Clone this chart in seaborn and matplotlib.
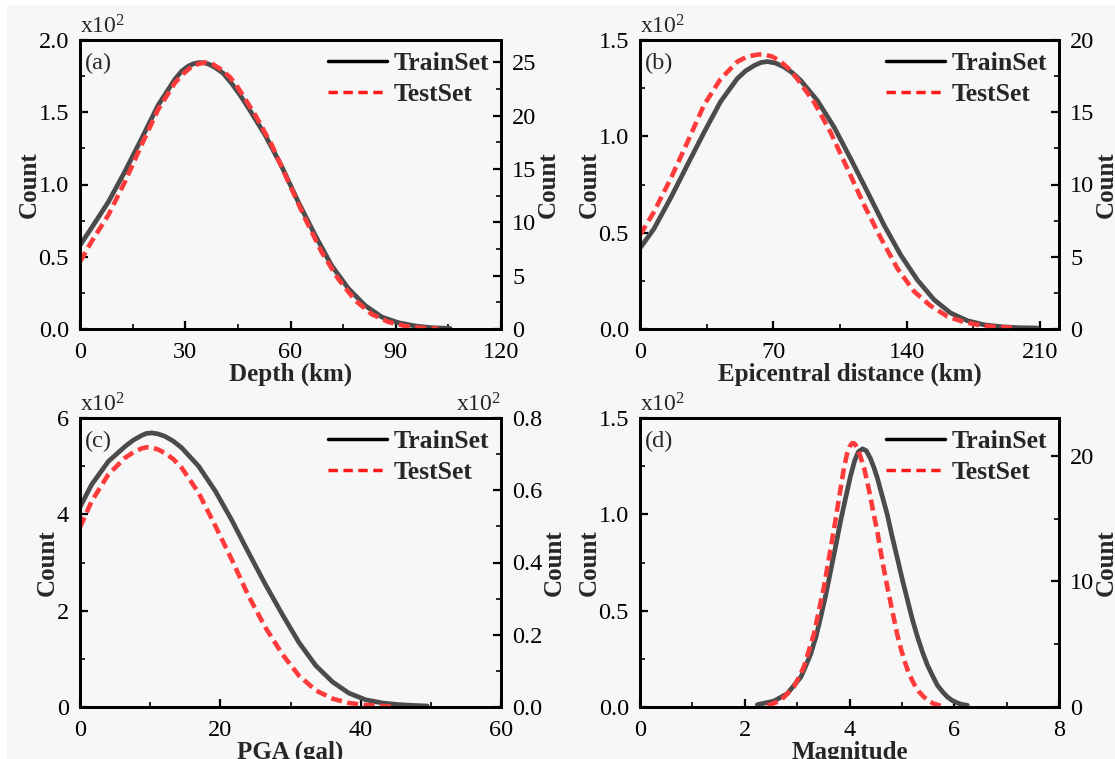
import matplotlib
matplotlib.use("Agg")
import matplotlib.pyplot as plt
from matplotlib.lines import Line2D
from matplotlib.patches import Rectangle
from matplotlib.ticker import MultipleLocator, FormatStrFormatter
import pandas as pd
import seaborn as sns

# ---- data: smoothed count distributions (left axis in units of 10^2) ----
depth_train_x = [0, 3.3, 8.1, 12.8, 17.6, 22.3, 27.1, 29.0, 30.9, 32.3, 33.7, 35.0, 36.5, 38.5, 40.8,
                 43.2, 45.6, 48.0, 52.7, 57.5, 62.2, 67.0, 71.7, 76.5, 81.2, 86.0, 90.7, 95.5, 100.2, 105.5]
depth_train_y = [0.58, 0.70, 0.88, 1.09, 1.32, 1.55, 1.73, 1.785, 1.82, 1.835, 1.843, 1.843, 1.835, 1.81, 1.77,
                 1.70, 1.62, 1.53, 1.345, 1.125, 0.88, 0.65, 0.44, 0.28, 0.164, 0.083, 0.044, 0.021, 0.009, 0.004]
depth_test_x = [0, 3.3, 8.1, 12.8, 17.6, 22.3, 27.1, 29.5, 31.8, 33.7, 35.6, 38.0, 40.4, 42.8, 45.1,
                49.9, 54.6, 59.4, 64.1, 68.9, 73.6, 78.4, 83.1, 87.9, 92.6, 97.4, 102.1]
depth_test_y = [6.3, 8.2, 10.7, 13.8, 17.3, 20.6, 23.1, 23.95, 24.6, 24.85, 25.0, 24.8, 24.3, 23.6, 22.6,
                20.1, 17.3, 13.8, 10.4, 7.2, 4.7, 2.7, 1.4, 0.66, 0.28, 0.1, 0.03]

epi_train_x = [0, 7.3, 16.1, 24.8, 33.6, 42.3, 51.1, 55.5, 59.9, 63.4, 66.9, 71.2, 75.6, 80.0, 84.4,
               93.1, 101.9, 110.6, 119.4, 128.1, 136.9, 145.6, 154.4, 163.1, 171.9, 180.6, 189.4,
               198.1, 208.6]
epi_train_y = [0.419, 0.52, 0.68, 0.85, 1.02, 1.18, 1.30, 1.34, 1.367, 1.383, 1.388, 1.38, 1.36, 1.33, 1.29,
               1.186, 1.048, 0.884, 0.712, 0.54, 0.384, 0.255, 0.152, 0.083, 0.043, 0.022, 0.012,
               0.007, 0.005]
epi_test_x = [0, 7.3, 16.1, 24.8, 33.6, 42.3, 51.1, 55.5, 59.9, 62.5, 65.1, 69.5, 73.9, 78.2, 82.6,
              91.4, 100.1, 108.9, 117.6, 126.4, 135.1, 143.9, 152.6, 161.4, 170.1, 178.9, 187.6, 198]
epi_test_y = [6.5, 8.1, 10.4, 12.9, 15.5, 17.3, 18.5, 18.8, 18.95, 19.0, 19.0, 18.85, 18.5, 18.0, 17.3,
              15.7, 13.6, 11.1, 8.6, 6.3, 4.2, 2.6, 1.6, 0.87, 0.48, 0.25, 0.14, 0.07]

pga_train_x = [0, 1.67, 4.05, 6.43, 7.6, 8.81, 9.5, 10.24, 11.1, 12.1, 13.3, 14.5, 16.9, 19.3, 21.7,
               24.0, 26.4, 28.8, 31.2, 33.6, 36.0, 38.3, 40.7, 43.1, 45.5, 47.9, 49.5]
pga_train_y = [4.15, 4.62, 5.10, 5.41, 5.54, 5.64, 5.68, 5.69, 5.67, 5.62, 5.52, 5.38, 5.00, 4.48, 3.86,
               3.21, 2.55, 1.93, 1.34, 0.86, 0.52, 0.29, 0.15, 0.083, 0.048, 0.03, 0.02]
pga_test_x = [0, 1.67, 4.05, 6.43, 7.6, 8.81, 9.5, 10.24, 11.1, 12.1, 13.3, 14.5, 16.9, 19.3, 21.7,
              24.0, 26.4, 28.8, 31.2, 33.6, 36.0, 38.3, 40.7, 43.1, 45.0]
pga_test_y = [0.497, 0.57, 0.644, 0.69, 0.705, 0.716, 0.719, 0.718, 0.713, 0.703, 0.686, 0.662, 0.593,
              0.501, 0.405, 0.308, 0.221, 0.147, 0.087, 0.046, 0.023, 0.011, 0.0055, 0.0027, 0.0013]

mag_train_x = [2.24, 2.56, 2.81, 3.07, 3.16, 3.26, 3.36, 3.45, 3.55, 3.64, 3.74, 3.83, 3.93, 4.02, 4.10,
               4.17, 4.25, 4.32, 4.40, 4.47, 4.53, 4.62, 4.72, 4.81, 4.91, 5.01, 5.11, 5.20, 5.30,
               5.40, 5.49, 5.59, 5.68, 5.78, 5.87, 5.96, 6.06, 6.15, 6.25]
mag_train_y = [0.012, 0.031, 0.069, 0.155, 0.21, 0.276, 0.365, 0.466, 0.585, 0.707, 0.84, 0.966, 1.09, 1.20, 1.28,
               1.325, 1.34, 1.33, 1.29, 1.24, 1.19, 1.10, 1.0, 0.89, 0.776, 0.66, 0.552, 0.455, 0.362,
               0.28, 0.216, 0.16, 0.112, 0.078, 0.052, 0.034, 0.021, 0.013, 0.009]
mag_test_x = [2.43, 2.68, 2.94, 3.13, 3.32, 3.51, 3.71, 3.83, 3.89, 3.95, 4.0, 4.05, 4.10, 4.15, 4.21,
              4.28, 4.34, 4.40, 4.46, 4.53, 4.59, 4.65, 4.72, 4.79, 4.85, 4.91, 4.97, 5.04, 5.13,
              5.23, 5.32, 5.42, 5.51, 5.61, 5.74]
mag_test_y = [0.1, 0.5, 1.6, 3.2, 5.8, 9.5, 14.3, 17.4, 18.9, 20.1, 20.7, 21.0, 20.95, 20.6, 19.9,
              19.0, 17.9, 16.7, 15.4, 14.0, 12.5, 11.1, 9.6, 8.2, 7.0, 5.8, 4.8, 3.8, 2.7,
              1.85, 1.25, 0.8, 0.48, 0.26, 0.1]

panel_tags = ["(a)", "(b)", "(c)", "(d)"]
x_labels = ["Depth (km)", "Epicentral distance (km)", "PGA (gal)", "Magnitude"]
series_labels = ["TrainSet", "TestSet"]

# ---- style ----
sns.set_style("ticks")
plt.rcParams["font.family"] = ["Liberation Serif", "DejaVu Serif"]
plt.rcParams["mathtext.fontset"] = "custom"
plt.rcParams["mathtext.rm"] = "Liberation Serif"
plt.rcParams["mathtext.it"] = "Liberation Serif:italic"
plt.rcParams["mathtext.bf"] = "Liberation Serif:bold"

BG = "#F7F7F7"
TRAIN_C = "#4B4B4B"
TEST_C = "#FF3A3A"
W, H = 1115, 759
TICK_FS = 17.5
LABEL_FS = 18

fig = plt.figure(figsize=(W / 100, H / 100), dpi=100, facecolor="white")
fig.patches.append(Rectangle((7 / W, 0), 1, 1 - 5 / H, transform=fig.transFigure,
                             facecolor=BG, edgecolor="none", zorder=-10))

def box(x0, x1, ytop, ybot):
    return [x0 / W, 1 - ybot / H, (x1 - x0) / W, (ybot - ytop) / H]

panels = [
    dict(pos=box(80, 501, 40, 329), tx=depth_train_x, ty=depth_train_y, sx=depth_test_x, sy=depth_test_y,
         xlim=(0, 120), xstep=30, yl=(0, 2.0), ylstep=0.5, ylfmt="%.1f",
         yr=(0, 27.1), yrstep=5, yrfmt="%d", rscale=False),
    dict(pos=box(640, 1059, 40, 329), tx=epi_train_x, ty=epi_train_y, sx=epi_test_x, sy=epi_test_y,
         xlim=(0, 220), xstep=70, yl=(0, 1.5), ylstep=0.5, ylfmt="%.1f",
         yr=(0, 20), yrstep=5, yrfmt="%d", rscale=False),
    dict(pos=box(80, 501, 418, 707), tx=pga_train_x, ty=pga_train_y, sx=pga_test_x, sy=pga_test_y,
         xlim=(0, 60), xstep=20, yl=(0, 6), ylstep=2, ylfmt="%d",
         yr=(0, 0.8), yrstep=0.2, yrfmt="%.1f", rscale=True),
    dict(pos=box(640, 1059, 418, 707), tx=mag_train_x, ty=mag_train_y, sx=mag_test_x, sy=mag_test_y,
         xlim=(0, 8), xstep=2, yl=(0, 1.5), ylstep=0.5, ylfmt="%.1f",
         yr=(0, 23.0), yrstep=10, yrfmt="%d", rscale=False),
]

def style_ticks(a, side):
    a.tick_params(axis="both", which="major", direction="in", length=6, width=1.6,
                  labelsize=TICK_FS, colors="black")
    a.tick_params(axis="both", which="minor", direction="in", length=3.5, width=1.4)
    a.tick_params(axis="x", which="major", pad=9.4)
    a.tick_params(axis="y", which="major", pad=8)
    if side == "left":
        a.tick_params(axis="y", which="both", left=True, right=False)
    else:
        a.tick_params(axis="y", which="both", left=False, right=True, labelleft=False, labelright=True)
    a.tick_params(axis="x", which="both", top=False, bottom=True)

for p, tag, xlab in zip(panels, panel_tags, x_labels):
    ax = fig.add_axes(p["pos"])
    ax.set_facecolor(BG)
    train_df = pd.DataFrame({"x": p["tx"], "y": p["ty"]})
    sns.lineplot(data=train_df, x="x", y="y", ax=ax, color=TRAIN_C, linewidth=3.4,
                 solid_joinstyle="round")
    ax.set_xlim(*p["xlim"])
    ax.set_ylim(*p["yl"])
    ax.xaxis.set_major_locator(MultipleLocator(p["xstep"]))
    ax.xaxis.set_minor_locator(MultipleLocator(p["xstep"] / 2))
    ax.yaxis.set_major_locator(MultipleLocator(p["ylstep"]))
    ax.yaxis.set_minor_locator(MultipleLocator(p["ylstep"] / 2))
    ax.yaxis.set_major_formatter(FormatStrFormatter(p["ylfmt"]))
    style_ticks(ax, "left")
    ax.set_xlabel(xlab, fontsize=LABEL_FS, fontweight="bold", labelpad=0)
    ax.set_ylabel("Count", fontsize=LABEL_FS, fontweight="bold", labelpad=-1.5)

    tw = ax.twinx()
    test_df = pd.DataFrame({"x": p["sx"], "y": p["sy"]})
    sns.lineplot(data=test_df, x="x", y="y", ax=tw, color=TEST_C, linewidth=3.3,
                 linestyle=(0, (2.4, 1.2)), dash_joinstyle="round")
    tw.set_xlim(*p["xlim"])
    tw.set_ylim(*p["yr"])
    tw.yaxis.set_major_locator(MultipleLocator(p["yrstep"]))
    tw.yaxis.set_minor_locator(MultipleLocator(p["yrstep"] / 2))
    tw.yaxis.set_major_formatter(FormatStrFormatter(p["yrfmt"]))
    style_ticks(tw, "right")
    tw.set_xlabel("")
    tw.set_ylabel("Count", fontsize=LABEL_FS, fontweight="bold", labelpad=0)

    for a in (ax, tw):
        for s in a.spines.values():
            s.set_linewidth(2.0)
            s.set_color("black")

    ax.text(0.0, 1.021, r"x10$^{2}$", transform=ax.transAxes, ha="left", va="baseline", fontsize=17)
    if p["rscale"]:
        tw.text(1.0, 1.021, r"x10$^{2}$", transform=tw.transAxes, ha="right", va="baseline", fontsize=17)
    ax.text(0.012, 0.955, tag, transform=ax.transAxes, ha="left", va="top", fontsize=TICK_FS)

    handles = [Line2D([], [], color="black", linewidth=2.5),
               Line2D([], [], color="#FF1A1A", linewidth=2.5, linestyle=(0, (2.7, 1.6)))]
    tw.legend(handles, series_labels, loc="upper right", frameon=False,
              prop={"weight": "bold", "size": 18.5}, handlelength=2.3, handletextpad=0.28,
              labelspacing=0.34, borderaxespad=0.35, borderpad=0.1)

fig.savefig("out.png", dpi=100, facecolor=fig.get_facecolor())
